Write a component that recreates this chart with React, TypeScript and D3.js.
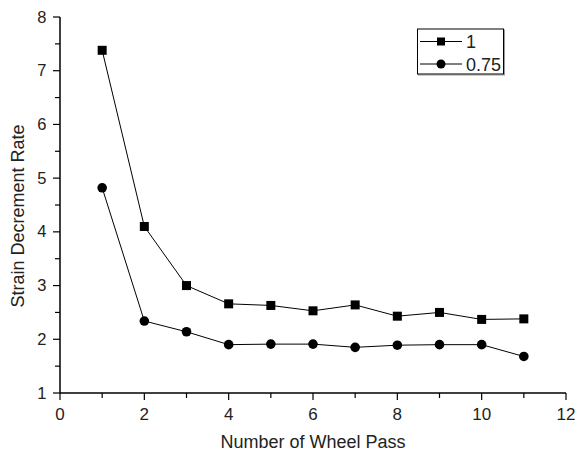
import * as d3 from "d3";

const passes = [1, 2, 3, 4, 5, 6, 7, 8, 9, 10, 11];
const series1 = [7.38, 4.1, 3.0, 2.66, 2.63, 2.53, 2.64, 2.43, 2.5, 2.37, 2.38];
const series075 = [4.82, 2.34, 2.14, 1.9, 1.91, 1.91, 1.85, 1.89, 1.9, 1.9, 1.68];
const xTicks = [0, 2, 4, 6, 8, 10, 12];
const yTicks = [1, 2, 3, 4, 5, 6, 7, 8];
const legendNames = ["1", "0.75"];

const W = 578;
const H = 456;
const font = "'Liberation Sans', Arial, sans-serif";

const App = () => {
  const x = d3.scaleLinear().domain([0, 12]).range([60, 566]);
  const y = d3.scaleLinear().domain([1, 8]).range([393, 17]);

  const line = d3
    .line<number>()
    .x((_, i) => x(passes[i]))
    .y((d) => y(d));

  const xMinor = d3.range(1, 12, 2);
  const yMinor = d3.range(1.5, 8, 1);

  return (
    <svg
      width={W}
      height={H}
      style={{ position: "absolute", left: 0, top: 0, background: "#fff" }}
      fontFamily={font}
    >
      {/* axes */}
      <line x1={x(0)} x2={x(12)} y1={y(1)} y2={y(1)} stroke="#000" strokeWidth={1.5} />
      <line x1={x(0)} x2={x(0)} y1={y(1)} y2={y(8)} stroke="#000" strokeWidth={1.5} />

      {xTicks.map((t) => (
        <g key={"xt" + t}>
          <line x1={x(t)} x2={x(t)} y1={y(1)} y2={y(1) + 7} stroke="#000" strokeWidth={1.2} />
          <text x={x(t)} y={y(1) + 27} textAnchor="middle" fontSize={17} fill="#222">
            {t}
          </text>
        </g>
      ))}
      {xMinor.map((t) => (
        <line key={"xm" + t} x1={x(t)} x2={x(t)} y1={y(1)} y2={y(1) + 5} stroke="#000" strokeWidth={1.2} />
      ))}

      {yTicks.map((t) => (
        <g key={"yt" + t}>
          <line x1={x(0) - 7} x2={x(0)} y1={y(t)} y2={y(t)} stroke="#000" strokeWidth={1.2} />
          <text x={x(0) - 13.5} y={y(t) + 5.5} textAnchor="end" fontSize={16.5} fill="#222">
            {t}
          </text>
        </g>
      ))}
      {yMinor.map((t) => (
        <line key={"ym" + t} x1={x(0) - 5} x2={x(0)} y1={y(t)} y2={y(t)} stroke="#000" strokeWidth={1.2} />
      ))}

      <text x={313} y={448} textAnchor="middle" fontSize={18} fill="#222">
        Number of Wheel Pass
      </text>
      <text
        transform={`translate(24 ${216}) rotate(-90)`}
        textAnchor="middle"
        fontSize={18}
        fill="#222"
      >
        Strain Decrement Rate
      </text>

      {/* series */}
      <path d={line(series1) ?? ""} fill="none" stroke="#000" strokeWidth={1} />
      <path d={line(series075) ?? ""} fill="none" stroke="#000" strokeWidth={1} />
      {series1.map((v, i) => (
        <rect key={"s" + i} x={x(passes[i]) - 4.5} y={y(v) - 4.5} width={9} height={9} fill="#000" />
      ))}
      {series075.map((v, i) => (
        <circle key={"c" + i} cx={x(passes[i])} cy={y(v)} r={4.8} fill="#000" />
      ))}

      {/* legend */}
      <rect x={418.5} y={30} width={86} height={45} fill="#fff" stroke="#999" strokeWidth={1} />
      <rect x={417.5} y={29} width={86} height={45} fill="#fff" stroke="#000" strokeWidth={1} />
      {legendNames.map((name, i) => {
        const ly = 41.5 + i * 22.5;
        return (
          <g key={name}>
            <line x1={420} x2={462} y1={ly} y2={ly} stroke="#000" strokeWidth={1} />
            {i === 0 ? (
              <rect x={437} y={ly - 4} width={8} height={8} fill="#000" />
            ) : (
              <circle cx={441} cy={ly} r={4.5} fill="#000" />
            )}
            <text x={466} y={ly + 6.5} fontSize={18} fill="#222">
              {name}
            </text>
          </g>
        );
      })}
    </svg>
  );
};

export default App;
